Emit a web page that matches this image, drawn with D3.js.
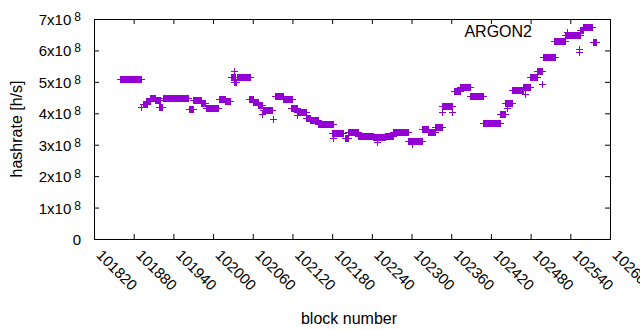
<!DOCTYPE html>
<html>
<head>
<meta charset="utf-8">
<style>
    body { margin: 0; background: #fff; }
    text { font-family: "Liberation Sans", Arial, sans-serif; fill: #000; }
</style>
</head>
<body>
<div id="chart"></div>
<script src="https://d3js.org/d3.v7.min.js"></script>
<script>
    // runs of consecutive blocks sharing one hashrate
    var runStart = [101859, 101891, 101894, 101899, 101905, 101912, 101918, 101924, 101964, 101970,
        101982, 101989, 102009, 102018, 102027, 102032, 102032, 102036, 102054, 102060,
        102068, 102074, 102075, 102091, 102094, 102106, 102118, 102127, 102127, 102140,
        102147, 102159, 102180, 102181, 102199, 102204, 102219, 102242, 102248, 102260,
        102272, 102295, 102301, 102316, 102325, 102335, 102346, 102346, 102361, 102364,
        102373, 102388, 102408, 102434, 102441, 102444, 102452, 102468, 102472, 102479,
        102490, 102497, 102499, 102515, 102532, 102553, 102553, 102555, 102559, 102574];
    var runEnd = [101891, 101891, 101900, 101905, 101912, 101920, 101923, 101962, 101970, 101982,
        101988, 102007, 102018, 102026, 102033, 102032, 102035, 102056, 102060, 102068,
        102074, 102074, 102089, 102091, 102106, 102119, 102127, 102140, 102127, 102147,
        102159, 102181, 102196, 102181, 102204, 102219, 102242, 102260, 102248, 102272,
        102295, 102316, 102301, 102325, 102335, 102346, 102361, 102346, 102361, 102373,
        102388, 102408, 102434, 102441, 102452, 102444, 102468, 102479, 102472, 102490,
        102497, 102497, 102517, 102532, 102555, 102553, 102553, 102559, 102573, 102579];
    var hashRate = [5.09e8, 4.20e8, 4.30e8, 4.39e8, 4.48e8, 4.42e8, 4.20e8, 4.48e8, 4.14e8, 4.42e8,
        4.33e8, 4.17e8, 4.45e8, 4.39e8, 5.15e8, 5.35e8, 5.00e8, 5.15e8, 4.45e8, 4.36e8,
        4.26e8, 3.98e8, 4.10e8, 3.82e8, 4.55e8, 4.45e8, 4.17e8, 4.04e8, 3.95e8, 3.85e8,
        3.79e8, 3.66e8, 3.37e8, 3.21e8, 3.21e8, 3.40e8, 3.28e8, 3.25e8, 3.09e8, 3.28e8,
        3.40e8, 3.12e8, 3.02e8, 3.50e8, 3.40e8, 3.56e8, 4.23e8, 4.04e8, 4.04e8, 4.71e8,
        4.84e8, 4.55e8, 3.69e8, 3.98e8, 4.33e8, 4.17e8, 4.74e8, 4.84e8, 4.61e8, 5.15e8,
        5.35e8, 4.93e8, 5.79e8, 6.30e8, 6.49e8, 5.95e8, 6.05e8, 6.65e8, 6.75e8, 6.27e8];

    var xTicks = [101820, 101880, 101940, 102000, 102060, 102120, 102180, 102240, 102300, 102360, 102420, 102480, 102540, 102600];
    var yTicks = [0, 1e8, 2e8, 3e8, 4e8, 5e8, 6e8, 7e8];
    var yTickMant = ["0", "1", "2", "3", "4", "5", "6", "7"];
    var seriesName = "ARGON2";

    var W = 640, H = 330;
    var mL = 94, mR = 610, mT = 19, mB = 239;
    var ps = 3; // half size of the + mark
    var purple = "#9400d3";

    var svg = d3.select("#chart").append("svg")
        .attr("width", W).attr("height", H);

    var x = d3.scaleLinear().domain([101820, 102600]).range([mL, mR]);
    var y = d3.scaleLinear().domain([0, 7e8]).range([mB, mT]);

    // ticks, all pointing inward, mirrored on top/right
    var gx = svg.append("g").attr("transform", "translate(0," + mB + ")")
        .call(d3.axisBottom(x).tickValues(xTicks).tickSizeInner(-5).tickSizeOuter(0).tickFormat(d => d));
    gx.select(".domain").remove();
    gx.selectAll("text")
        .attr("y", 0).attr("dy", 0).attr("x", 0)
        .attr("text-anchor", "start")
        .attr("transform", "translate(1,17) rotate(45)")
        .style("font-size", "15px");

    var gxt = svg.append("g").attr("transform", "translate(0," + mT + ")")
        .call(d3.axisTop(x).tickValues(xTicks).tickSizeInner(-5).tickSizeOuter(0).tickFormat(""));
    gxt.select(".domain").remove();

    var gy = svg.append("g").attr("transform", "translate(" + mL + ",0)")
        .call(d3.axisLeft(y).tickValues(yTicks).tickSizeInner(-5).tickSizeOuter(0).tickFormat(""));
    gy.select(".domain").remove();
    var gyr = svg.append("g").attr("transform", "translate(" + mR + ",0)")
        .call(d3.axisRight(y).tickValues(yTicks).tickSizeInner(-5).tickSizeOuter(0).tickFormat(""));
    gyr.select(".domain").remove();
    svg.selectAll(".tick line").attr("stroke", "#000");

    // y labels like 7x10^8
    var yl = svg.append("g");
    yTicks.forEach(function (v, i) {
        var t = yl.append("text")
            .attr("x", 81).attr("y", y(v) + 6)
            .attr("text-anchor", "end")
            .style("font-size", "15px");
        if (v === 0) {
            t.text("0");
        } else {
            t.append("tspan").text(yTickMant[i] + "x10");
            t.append("tspan").attr("dx", 3).attr("dy", -4).style("font-size", "12px").text("8");
        }
    });

    // frame
    svg.append("rect")
        .attr("x", mL + 0.5).attr("y", mT + 0.5)
        .attr("width", mR - mL).attr("height", mB - mT)
        .attr("fill", "none").attr("stroke", "#000").attr("stroke-width", 1);

    // points: each run of + marks drawn as one swept mark
    var marks = svg.append("g").attr("fill", purple);
    runStart.forEach(function (s, i) {
        var x0 = Math.round(x(s)), x1 = Math.round(x(runEnd[i])), yy = Math.round(y(hashRate[i]));
        marks.append("rect")
            .attr("x", x0).attr("y", yy - ps)
            .attr("width", x1 - x0 + 1).attr("height", 2 * ps + 1);
        marks.append("rect")
            .attr("x", x0 - ps).attr("y", yy)
            .attr("width", x1 - x0 + 1 + 2 * ps).attr("height", 1);
    });

    // key
    svg.append("text")
        .attr("x", 532).attr("y", 37)
        .attr("text-anchor", "end")
        .style("font-size", "16px")
        .text(seriesName);
    marks.append("rect").attr("x", 567).attr("y", 32 - ps).attr("width", 1).attr("height", 2 * ps + 1);
    marks.append("rect").attr("x", 567 - ps).attr("y", 32).attr("width", 2 * ps + 1).attr("height", 1);

    // axis titles
    svg.append("text")
        .attr("x", 349).attr("y", 324)
        .attr("text-anchor", "middle")
        .style("font-size", "16px")
        .text("block number");
    svg.append("text")
        .attr("transform", "translate(22," + ((mT + mB) / 2) + ") rotate(-90)")
        .attr("text-anchor", "middle")
        .style("font-size", "16px")
        .text("hashrate [h/s]");
</script>
</body>
</html>
